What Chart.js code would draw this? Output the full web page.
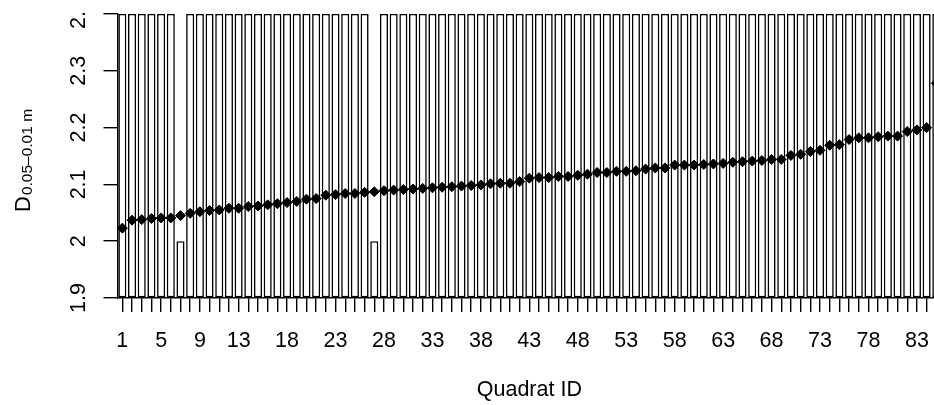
<!DOCTYPE html>
<html>
<head>
<meta charset="utf-8">
<script src="https://cdn.jsdelivr.net/npm/chart.js@4"></script>
<style>
html, body { margin: 0; padding: 0; background: #fff; overflow: hidden; }
#wrap { width: 960px; height: 405px; }
</style>
</head>
<body>
<div id="wrap"><canvas id="quadratChart" width="960" height="405"></canvas></div>
<script>
var quadratIds = [1, 2, 3, 4, 5, 6, 7, 8, 9, 10, 11, 12, 13, 14, 15, 16, 17, 18, 19, 20,
    21, 22, 23, 24, 25, 26, 27, 28, 29, 30, 31, 32, 33, 34, 35, 36, 37, 38, 39, 40,
    41, 42, 43, 44, 45, 46, 47, 48, 49, 50, 51, 52, 53, 54, 55, 56, 57, 58, 59, 60,
    61, 62, 63, 64, 65, 66, 67, 68, 69, 70, 71, 72, 73, 74, 75, 76, 77, 78, 79, 80,
    81, 82, 83, 84, 85];

var barValues = [2.4, 2.4, 2.4, 2.4, 2.4, 2.4, 2.0, 2.4, 2.4, 2.4, 2.4, 2.4, 2.4, 2.4, 2.4, 2.4, 2.4, 2.4, 2.4, 2.4,
    2.4, 2.4, 2.4, 2.4, 2.4, 2.4, 2.0, 2.4, 2.4, 2.4, 2.4, 2.4, 2.4, 2.4, 2.4, 2.4, 2.4, 2.4, 2.4, 2.4,
    2.4, 2.4, 2.4, 2.4, 2.4, 2.4, 2.4, 2.4, 2.4, 2.4, 2.4, 2.4, 2.4, 2.4, 2.4, 2.4, 2.4, 2.4, 2.4, 2.4,
    2.4, 2.4, 2.4, 2.4, 2.4, 2.4, 2.4, 2.4, 2.4, 2.4, 2.4, 2.4, 2.4, 2.4, 2.4, 2.4, 2.4, 2.4, 2.4, 2.4,
    2.4, 2.4, 2.4, 2.4, 2.4];

var dimValues = [2.023, 2.037, 2.038, 2.040, 2.041, 2.041, 2.045, 2.049, 2.052, 2.054,
    2.055, 2.058, 2.058, 2.061, 2.062, 2.064, 2.066, 2.068, 2.070, 2.074,
    2.075, 2.081, 2.082, 2.084, 2.084, 2.086, 2.087, 2.089, 2.090, 2.091,
    2.092, 2.093, 2.094, 2.095, 2.096, 2.097, 2.098, 2.099, 2.101, 2.102,
    2.102, 2.105, 2.111, 2.112, 2.112, 2.114, 2.114, 2.116, 2.118, 2.121,
    2.121, 2.123, 2.123, 2.124, 2.127, 2.129, 2.129, 2.134, 2.134, 2.134,
    2.135, 2.136, 2.137, 2.139, 2.140, 2.141, 2.142, 2.144, 2.144, 2.151,
    2.153, 2.158, 2.160, 2.169, 2.170, 2.179, 2.182, 2.182, 2.184, 2.185,
    2.185, 2.193, 2.196, 2.200, 2.278];

var xLabelIds = [1, 5, 9, 13, 18, 23, 28, 33, 38, 43, 48, 53, 58, 63, 68, 73, 78, 83];
var yTickValues = [1.9, 2.0, 2.1, 2.2, 2.3, 2.4];
var yTickLabels = ['1.9', '2', '2.1', '2.2', '2.3', '2.4'];

var FONT = '"Liberation Sans", Arial, sans-serif';

// y labels (rotated, R style), axis titles
var axisText = {
    id: 'axisText',
    afterDraw: function(chart) {
        var ctx = chart.ctx;
        var y = chart.scales.y;
        var area = chart.chartArea;
        ctx.save();
        ctx.fillStyle = '#000';

        ctx.save();
        ctx.beginPath();
        ctx.rect(0, 12, area.left, chart.height);
        ctx.clip();
        ctx.font = '21.5px ' + FONT;
        ctx.textAlign = 'center';
        ctx.textBaseline = 'alphabetic';
        yTickValues.forEach(function(v, i) {
            ctx.save();
            ctx.translate(85, y.getPixelForValue(v));
            ctx.rotate(-Math.PI / 2);
            ctx.fillText(yTickLabels[i], 0, 0);
            ctx.restore();
        });
        ctx.restore();

        ctx.save();
        ctx.translate(0, 212);
        ctx.rotate(-Math.PI / 2);
        ctx.textAlign = 'left';
        ctx.textBaseline = 'alphabetic';
        ctx.font = '22px ' + FONT;
        ctx.fillText('D', 0, 29.5);
        var w = ctx.measureText('D').width;
        ctx.font = '15.5px ' + FONT;
        ctx.fillText('0.05\u20130.01 m', w + 1, 31.5);
        ctx.restore();

        ctx.font = '21.5px ' + FONT;
        ctx.textAlign = 'center';
        ctx.textBaseline = 'alphabetic';
        ctx.fillText('Quadrat ID', (area.left + area.right) / 2, 396);
        ctx.restore();
    }
};

var ctx = document.getElementById('quadratChart').getContext('2d');
var chart = new Chart(ctx, {
    type: 'bar',
    data: {
        labels: quadratIds,
        datasets: [{
            type: 'line',
            data: dimValues,
            showLine: false,
            pointStyle: 'rectRot',
            pointRadius: 5,
            pointBackgroundColor: '#000',
            pointBorderColor: '#000',
            pointBorderWidth: 1,
            order: 0
        }, {
            type: 'bar',
            data: barValues,
            base: 1.9,
            backgroundColor: '#fff',
            borderColor: '#000',
            borderWidth: 1.6,
            borderSkipped: false,
            barPercentage: 1 / 1.2,
            categoryPercentage: 1,
            order: 1
        }]
    },
    options: {
        responsive: false,
        animation: false,
        devicePixelRatio: 1,
        layout: { padding: { left: 0, top: 14, right: 18.85, bottom: 0 } },
        plugins: {
            legend: { display: false },
            tooltip: { enabled: false }
        },
        scales: {
            x: {
                grid: { display: true, drawOnChartArea: false, offset: false, tickLength: 14, color: '#000', lineWidth: 1.4 },
                border: { display: true, color: '#000', width: 1.4 },
                ticks: {
                    autoSkip: false,
                    maxRotation: 0,
                    minRotation: 0,
                    padding: 16,
                    color: '#000',
                    font: { family: FONT, size: 21.5 },
                    callback: function(val, idx) {
                        return xLabelIds.indexOf(quadratIds[idx]) >= 0 ? String(quadratIds[idx]) : '';
                    }
                },
                afterFit: function(s) { s.height = 107; }
            },
            y: {
                min: 1.9,
                max: 2.4,
                afterBuildTicks: function(s) {
                    s.ticks = yTickValues.map(function(v) { return { value: v }; });
                },
                grid: { display: true, drawOnChartArea: false, tickLength: 14, color: '#000', lineWidth: 1.4 },
                border: { display: true, color: '#000', width: 1.4 },
                ticks: { display: false },
                afterFit: function(s) { s.width = 117.5; }
            }
        }
    },
    plugins: [axisText]
});
</script>
</body>
</html>
